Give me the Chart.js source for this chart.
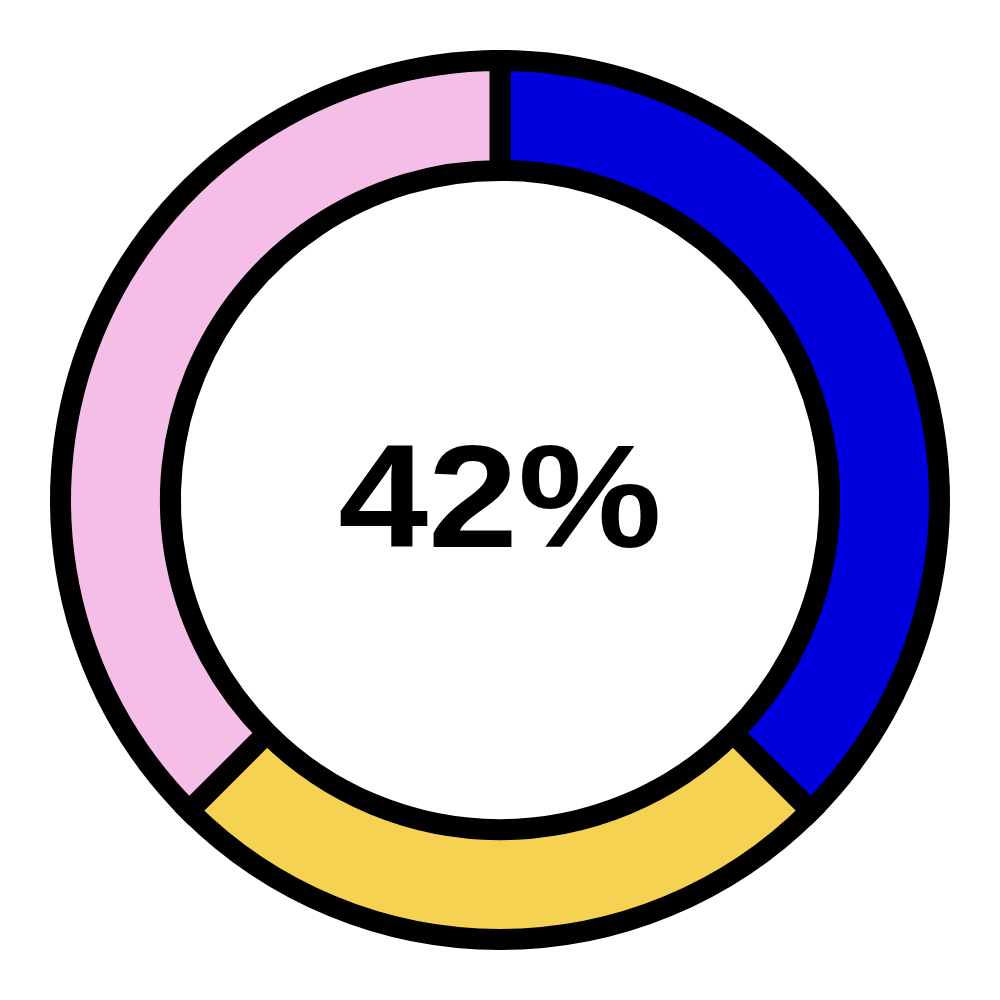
<!DOCTYPE html>
<html>
<head>
<meta charset="utf-8">
<script src="https://cdn.jsdelivr.net/npm/chart.js@4/dist/chart.umd.min.js"></script>
<style>
html,body{margin:0;padding:0;background:#fff;}
#wrap{width:1000px;height:1000px;}
</style>
</head>
<body>
<div id="wrap"><canvas id="c" width="1000" height="1000"></canvas></div>
<script>
const categories = ["Segment 1", "Segment 2", "Segment 3"];
const values = [37.5, 25, 37.5];
const colors = ["#0000dc", "#f5d251", "#f5bee6"];
const centerLabel = "42%";

const centerText = {
  id: 'centerText',
  afterDraw(chart) {
    const ctx = chart.ctx;
    const meta = chart.getDatasetMeta(0);
    const arc = meta.data[0];
    const x = arc.x, y = arc.y;
    ctx.save();
    ctx.translate(x, y + 47);
    ctx.scale(1.1, 1);
    ctx.fillStyle = '#000';
    ctx.font = 'bold 147px "Liberation Sans", Arial, sans-serif';
    ctx.textAlign = 'center';
    ctx.textBaseline = 'alphabetic';
    ctx.fillText(centerLabel, 0, 0);
    ctx.restore();
  }
};

new Chart(document.getElementById('c'), {
  type: 'doughnut',
  data: {
    labels: categories,
    datasets: [{
      data: values,
      backgroundColor: colors,
      borderColor: '#000',
      borderWidth: 21,
      borderJoinStyle: 'miter'
    }]
  },
  options: {
    responsive: false,
    animation: false,
    devicePixelRatio: 1,
    cutout: '75%',
    layout: { padding: 50 },
    plugins: {
      legend: { display: false },
      tooltip: { enabled: false }
    }
  },
  plugins: [centerText]
});
</script>
</body>
</html>
